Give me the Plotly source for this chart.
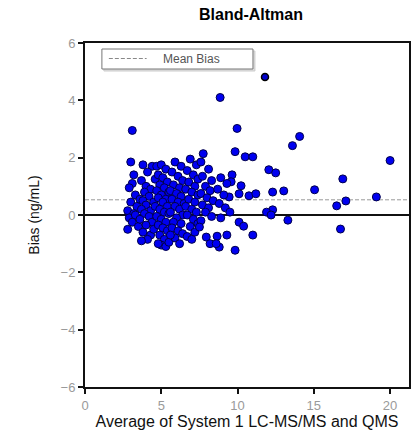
import plotly.graph_objects as go

# ---- data ----
avg_x = [
    # x ~ 3
    3.1, 3.0, 3.2, 3.1, 2.9, 3.3, 3.0, 2.8, 3.2, 2.9, 3.4, 3.1, 2.8, 3.5, 3.3, 3.6,
    # x ~ 4
    3.8, 4.4, 4.1, 3.7, 4.0, 4.3, 3.9, 4.2, 3.8, 4.5, 4.0, 3.7, 4.3, 3.9, 4.2, 3.6,
    4.4, 4.0, 3.8, 4.3, 4.1, 3.7, 4.5, 4.6,
    # x ~ 5
    4.7, 5.0, 5.3, 4.8, 5.1, 5.4, 4.9, 5.2, 4.7, 5.5, 5.0, 4.8, 5.3, 5.1, 4.6, 5.4,
    4.9, 5.2, 5.5, 4.7, 5.0, 5.3, 4.8, 5.1, 5.4, 4.9, 5.2, 5.0, 5.3, 4.8, 5.5,
    # x ~ 6
    5.9, 6.3, 5.7, 6.1, 6.4, 5.8, 6.2, 5.6, 6.0, 6.3, 5.7, 6.1, 6.5, 5.9, 6.2, 5.6,
    6.4, 6.0, 5.8, 6.3, 5.7, 6.1, 6.4, 5.9, 6.2, 5.6,
    # x ~ 7
    6.9, 7.3, 6.7, 7.1, 7.4, 6.8, 7.2, 6.6, 7.0, 7.4, 6.8, 7.2, 6.6, 7.0, 7.3, 6.7,
    7.1, 7.4, 6.9, 7.2, 6.7, 7.0,
    # x ~ 8
    7.75, 7.6, 8.1, 7.7, 8.3, 7.9, 8.2, 7.6, 8.0, 8.4, 7.7, 8.1, 7.9, 8.3, 7.6, 7.5,
    7.95, 8.66, 8.8, 8.2,
    # x ~ 9-11
    8.86, 9.97, 9.84, 10.5, 11.0, 9.64, 9.58, 10.23, 9.45, 10.1, 10.75, 11.2, 8.9, 9.3,
    8.7, 9.1, 8.8, 9.2, 9.5, 8.9, 10.1, 10.4, 11.0, 9.3, 9.84, 8.6,
    # right tail
    12.05, 12.5, 16.9, 15.05, 13.03, 12.3, 19.1, 17.1, 16.5, 12.3, 11.9, 12.2, 13.3,
    16.75, 13.6, 14.07, 20.0,
]
bias_y = [
    2.95, 1.85, 1.4, 1.1, 0.95, 0.7, 0.45, 0.15, 0.05, -0.1, 0.3, -0.25, -0.5, -0.4, 0.0, 0.55,
    1.75, 1.7, 1.5, 1.2, 1.0, 0.9, 0.8, 0.65, 0.5, 0.45, 0.35, 0.2, 0.15, 0.05, -0.05, -0.15,
    -0.25, -0.35, -0.6, -0.7, -0.85, -0.9, -0.5, 1.25,
    1.7, 1.75, 1.6, 1.4, 1.3, 1.15, 1.05, 0.95, 0.85, 0.8, 0.7, 0.6, 0.55, 0.45, 0.3, 0.3,
    0.2, 0.1, 0.05, -0.05, -0.15, -0.25, -0.35, -0.45, -0.55, -0.7, -0.85, -1.05, -1.1, -1.0, -0.95,
    1.85, 1.7, 1.5, 1.35, 1.2, 1.05, 0.95, 0.85, 0.75, 0.65, 0.55, 0.45, 0.4, 0.3, 0.2, 0.1,
    0.0, -0.1, -0.25, -0.3, -0.45, -0.55, -0.65, -0.8, -1.0, -0.7,
    1.95, 1.75, 1.55, 1.4, 1.25, 1.15, 1.0, 0.9, 0.8, 0.7, 0.55, 0.45, 0.3, 0.2, 0.1, 0.0,
    -0.15, -0.3, -0.4, -0.6, -0.75, -0.85,
    2.14, 1.85, 1.6, 1.35, 1.2, 1.0, 0.85, 0.75, 0.6, 0.5, 0.35, 0.25, 0.1, -0.05, -0.2, -0.42,
    -0.77, -0.74, -1.12, -1.0,
    4.1, 3.02, 2.21, 2.03, 2.03, 1.4, 1.16, 1.02, 0.63, 0.74, 0.67, 0.74, 1.3, 1.1,
    0.9, 0.7, 0.4, 0.25, 0.1, -0.1, -0.25, -0.39, -0.7, -0.7, -1.23, -1.0,
    1.58, 1.47, 1.26, 0.88, 0.84, 0.8, 0.63, 0.49, 0.32, 0.18, 0.1, 0.0, -0.18,
    -0.49, 2.42, 2.74, 1.9,
]
highlight_x = [11.8]
highlight_y = [4.81]
mean_bias = 0.53

x_ticks = [0, 5, 10, 15, 20]
y_ticks = [-6, -4, -2, 0, 2, 4, 6]

NARROW = "Liberation Sans Narrow, Arial Narrow, Liberation Sans, sans-serif"
REG = "Liberation Sans, Arial, sans-serif"

fig = go.Figure()
fig.add_trace(go.Scatter(
    x=avg_x, y=bias_y, mode="markers",
    marker=dict(size=8, color="#0000f0", line=dict(color="#00004a", width=1)),
    showlegend=False, cliponaxis=True,
))
fig.add_trace(go.Scatter(
    x=highlight_x, y=highlight_y, mode="markers",
    marker=dict(size=7, color="#0000cc", line=dict(color="#000000", width=1.5)),
    showlegend=False,
))

# zero line and mean bias line
fig.add_shape(type="line", xref="paper", x0=0, x1=1, yref="y", y0=0, y1=0,
              line=dict(color="#111111", width=2), layer="below")
fig.add_shape(type="line", xref="paper", x0=0, x1=1, yref="y", y0=mean_bias, y1=mean_bias,
              line=dict(color="#999999", width=1, dash="4px,2px"), layer="below")

# manual legend box
W, H = 414, 443
ml, mr, mt, mb = 85, 3, 43, 56
pw, ph = W - ml - mr, H - mt - mb
def px_x(p):
    return (p - ml) / pw
def px_y(p):
    return (H - mb - p) / ph

fig.add_shape(type="rect", xref="paper", yref="paper",
              x0=px_x(104), x1=px_x(256), y0=px_y(71), y1=px_y(51),
              line=dict(color="#cccccc", width=1), fillcolor="#dddddd", layer="above")
fig.add_shape(type="rect", xref="paper", yref="paper",
              x0=px_x(102), x1=px_x(254), y0=px_y(69), y1=px_y(49),
              line=dict(color="#777777", width=1), fillcolor="white", layer="above")
fig.add_shape(type="line", xref="paper", yref="paper",
              x0=px_x(109), x1=px_x(147), y0=px_y(58.5), y1=px_y(58.5),
              line=dict(color="#888888", width=1, dash="4px,2px"), layer="above")
fig.add_annotation(xref="paper", yref="paper", x=px_x(161), y=px_y(59),
                   xanchor="left", yanchor="middle", text="Mean Bias", showarrow=False,
                   font=dict(family=REG, size=12, color="#555555"))

fig.update_layout(
    width=W, height=H,
    margin=dict(l=ml, r=mr, t=mt, b=mb),
    paper_bgcolor="white", plot_bgcolor="white",
    title=dict(text="<b>Bland-Altman</b>", x=(251) / W, xanchor="center",
               y=1 - 14 / H, yanchor="middle",
               font=dict(family=REG, size=16, color="#000000")),
    font=dict(family=REG),
    xaxis=dict(range=[0, 21.24], tickvals=x_ticks, showgrid=False, zeroline=False,
               showline=True, linecolor="#111111", linewidth=2, mirror=True,
               ticks="outside", ticklen=5, tickwidth=2, tickcolor="#111111",
               tickfont=dict(family=REG, size=13, color="#9a9a9a"),
               title=dict(text="Average of System 1 LC-MS/MS and QMS",
                          font=dict(family=REG, size=16, color="#111111"), standoff=4)),
    yaxis=dict(range=[-6, 6], tickvals=y_ticks, showgrid=False, zeroline=False,
               showline=True, linecolor="#111111", linewidth=2, mirror=True,
               ticks="outside", ticklen=5, tickwidth=2, tickcolor="#111111",
               tickfont=dict(family=REG, size=13, color="#9a9a9a"),
               title=dict(text="Bias (ng/mL)",
                          font=dict(family=NARROW, size=14, color="#111111"), standoff=18)),
)

fig.write_html("out.html")
